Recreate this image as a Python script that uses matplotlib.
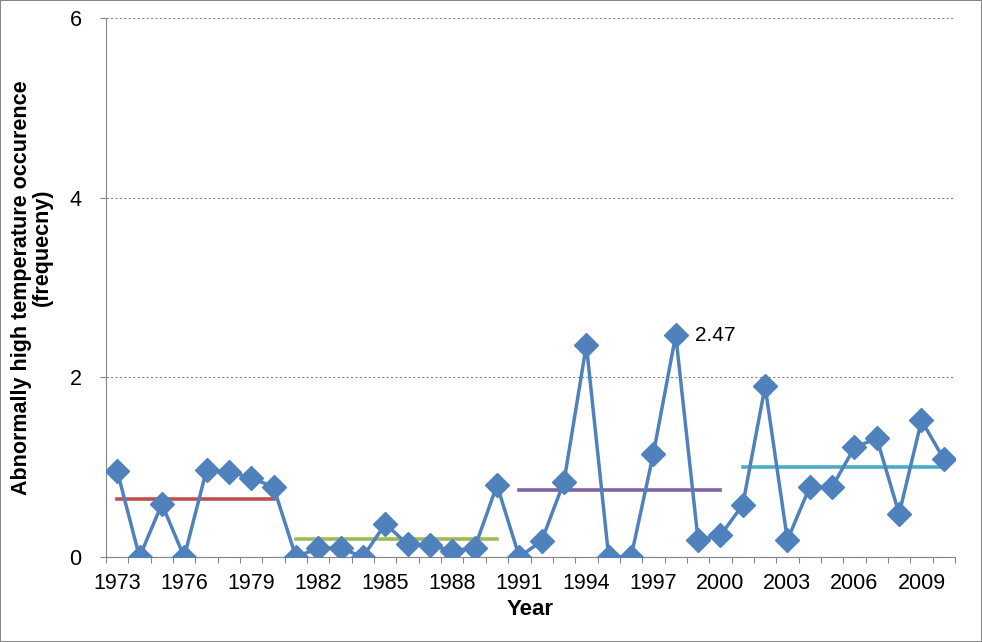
import numpy as np, matplotlib
matplotlib.use('Agg')
import matplotlib.pyplot as plt

plt.rcParams['font.family'] = ['Liberation Sans', 'DejaVu Sans']

BLUE = '#4F81BD'; RED = '#C0504D'; GREEN = '#9BBB59'; PURPLE = '#8064A2'; CYAN = '#4BACC6'
GRAY = '#868686'

# yearly occurrence
years = list(range(1973, 2011))
freq = [0.96, 0.0, 0.59, 0.0, 0.97, 0.95, 0.88, 0.78,
        0.0, 0.10, 0.10, 0.0, 0.37, 0.14, 0.13, 0.07, 0.10, 0.80,
        0.0, 0.18, 0.84, 2.36, 0.0, 0.0, 1.15, 2.47, 0.19, 0.24,
        0.58, 1.90, 0.19, 0.78, 0.78, 1.22, 1.32, 0.48, 1.52, 1.09]

# decade means (horizontal segments)
period_start = [1973, 1981, 1991, 2001]
period_end = [1980, 1990, 2000, 2010]
period_mean = [0.65, 0.20, 0.75, 1.00]
period_color = [RED, GREEN, PURPLE, CYAN]

fig = plt.figure(figsize=(9.82, 6.42), dpi=100)
fig.patch.set_edgecolor(GRAY); fig.patch.set_linewidth(1.2)
ax = fig.add_axes([106/982, 1-557/642, (955-106)/982, (557-18)/642])

x = np.arange(len(years))
ax.plot(x, freq, color=BLUE, lw=2.5, marker='D', ms=12.5, mfc=BLUE, mec=BLUE, zorder=3)

for s, e, m, c in zip(period_start, period_end, period_mean, period_color):
    ax.plot([years.index(s), years.index(e)], [m, m], color=c, lw=2.6, zorder=2)

i98 = years.index(1998)
ax.annotate(f'{freq[i98]:.2f}', xy=(i98, freq[i98]), xytext=(14, 0), textcoords='offset points',
            fontsize=15, va='center', ha='left')

ax.set_xlim(-0.5, len(years) - 0.5)
ax.set_ylim(0, 6)
ax.set_yticks([0, 2, 4, 6])
ax.yaxis.grid(True, color=GRAY, ls=(0, (2, 2)), lw=0.8)
ax.set_axisbelow(True)

# tick marks at category boundaries, labels every third year
ax.set_xticks(np.arange(-0.5, len(years)), minor=False)
ax.set_xticklabels([])
lab_idx = list(range(0, len(years), 3))
ax.set_xticks(lab_idx, minor=True)
ax.set_xticklabels([str(years[i]) for i in lab_idx], minor=True)
ax.tick_params(axis='x', which='major', direction='out', length=4.5, color=GRAY)
ax.tick_params(axis='x', which='minor', length=0, labelsize=15.5, pad=11.5)
ax.tick_params(axis='y', direction='out', length=4.5, color=GRAY, labelsize=15.5, pad=13)

for sp in ['top', 'right']:
    ax.spines[sp].set_visible(False)
for sp in ['left', 'bottom']:
    ax.spines[sp].set_color(GRAY)

ax.set_xlabel('Year', fontsize=16, fontweight='bold')
ax.xaxis.set_label_coords(0.5, -0.078)
# two-line y title, second line sits a bit higher as in the original
ax.text(-0.0995, 0.5, 'Abnormally high temperature occurence', transform=ax.transAxes,
        rotation=90, ha='center', va='center', fontsize=15.5, fontweight='bold')
ax.text(-0.075, 0.575, '(frequecny)', transform=ax.transAxes,
        rotation=90, ha='center', va='center', fontsize=15.5, fontweight='bold')

fig.savefig('out.png', dpi=100)
